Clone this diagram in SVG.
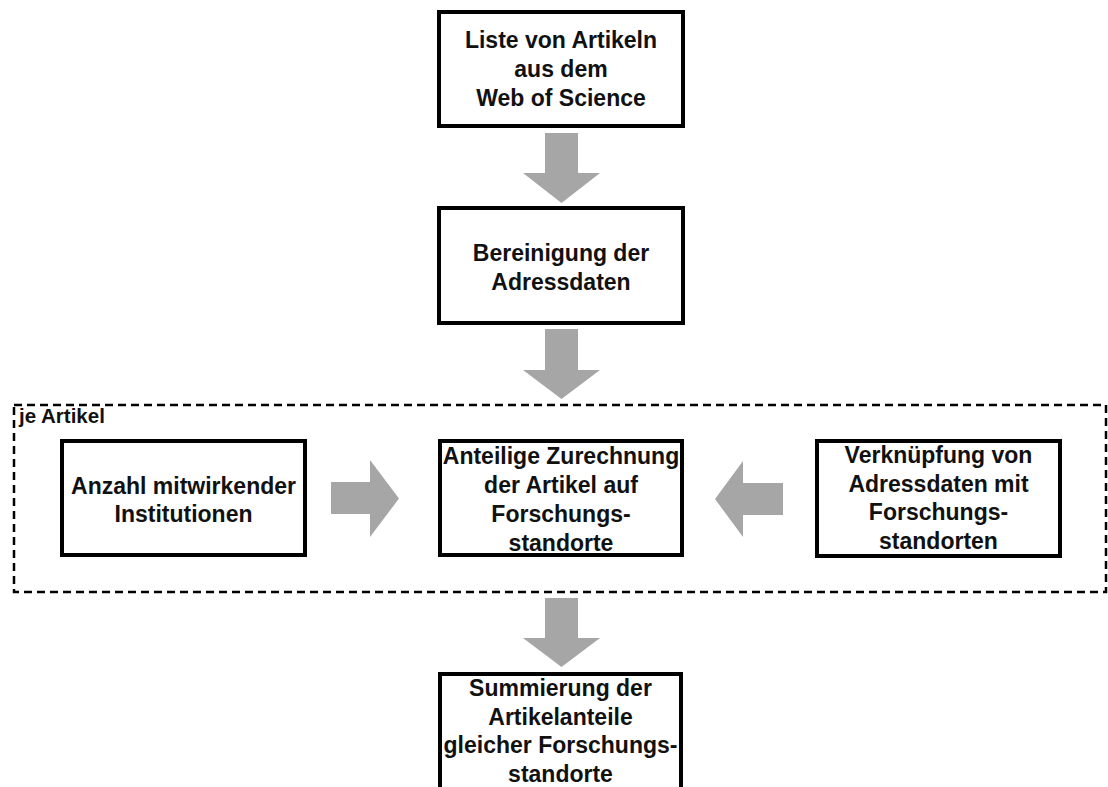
<svg xmlns="http://www.w3.org/2000/svg" width="1108" height="787" viewBox="0 0 1108 787">
<style>
.box{fill:#ffffff;stroke:#000000;stroke-width:4}
.t{font-family:"Liberation Sans",Arial,sans-serif;font-weight:bold;font-size:23px;fill:#111111;text-anchor:middle}
.arr{fill:#a6a6a6;stroke:none}
.grp{fill:none;stroke:#000000;stroke-width:2.5;stroke-dasharray:8 5}
</style>
<rect width="1108" height="787" fill="#ffffff"/>
<g id="group-je-artikel">
<rect class="grp" x="14" y="405" width="1092" height="187"/>
<text x="19" y="423" font-family="'Liberation Sans',Arial,sans-serif" font-weight="bold" font-size="20.5" fill="#111111">je Artikel</text>
</g>
<g id="connectors">
<polygon class="arr" points="545,133 578,133 578,173 600,173 561.5,203 523,173 545,173"/>
<polygon class="arr" points="545,329 578,329 578,370 600,370 561.5,399 523,370 545,370"/>
<polygon class="arr" points="545,598 578,598 578,638 600,638 561.5,667 523,638 545,638"/>
<polygon class="arr" points="331,482 370,482 370,460 399,498.5 370,537 370,514 331,514"/>
<polygon class="arr" points="783,483 743,483 743,461 715,499 743,537 743,515 783,515"/>
</g>
<g id="node-liste">
<rect class="box" x="439" y="12" width="244" height="114"/>
<text class="t"><tspan x="561" y="48">Liste von Artikeln</tspan><tspan x="561" y="77">aus dem</tspan><tspan x="561" y="106">Web of Science</tspan></text>
</g>
<g id="node-bereinigung">
<rect class="box" x="439" y="208" width="244" height="115"/>
<text class="t"><tspan x="561" y="261">Bereinigung der</tspan><tspan x="561" y="290">Adressdaten</tspan></text>
</g>
<g id="node-anzahl">
<rect class="box" x="62" y="441" width="243" height="114"/>
<text class="t"><tspan x="183.5" y="494">Anzahl mitwirkender</tspan><tspan x="183.5" y="522">Institutionen</tspan></text>
</g>
<g id="node-zurechnung">
<rect class="box" x="440" y="441" width="242" height="114"/>
<text class="t"><tspan x="561" y="464">Anteilige Zurechnung</tspan><tspan x="561" y="493">der Artikel auf</tspan><tspan x="561" y="522">Forschungs-</tspan><tspan x="561" y="551">standorte</tspan></text>
</g>
<g id="node-verknuepfung">
<rect class="box" x="817" y="441" width="243" height="115"/>
<text class="t"><tspan x="938.5" y="463">Verknüpfung von</tspan><tspan x="938.5" y="492">Adressdaten mit</tspan><tspan x="938.5" y="520">Forschungs-</tspan><tspan x="938.5" y="549">standorten</tspan></text>
</g>
<g id="node-summierung">
<rect class="box" x="440" y="674" width="241" height="130"/>
<text class="t"><tspan x="560.5" y="696">Summierung der</tspan><tspan x="560.5" y="725">Artikelanteile</tspan><tspan x="560.5" y="753">gleicher Forschungs-</tspan><tspan x="560.5" y="782">standorte</tspan></text>
</g>
</svg>
